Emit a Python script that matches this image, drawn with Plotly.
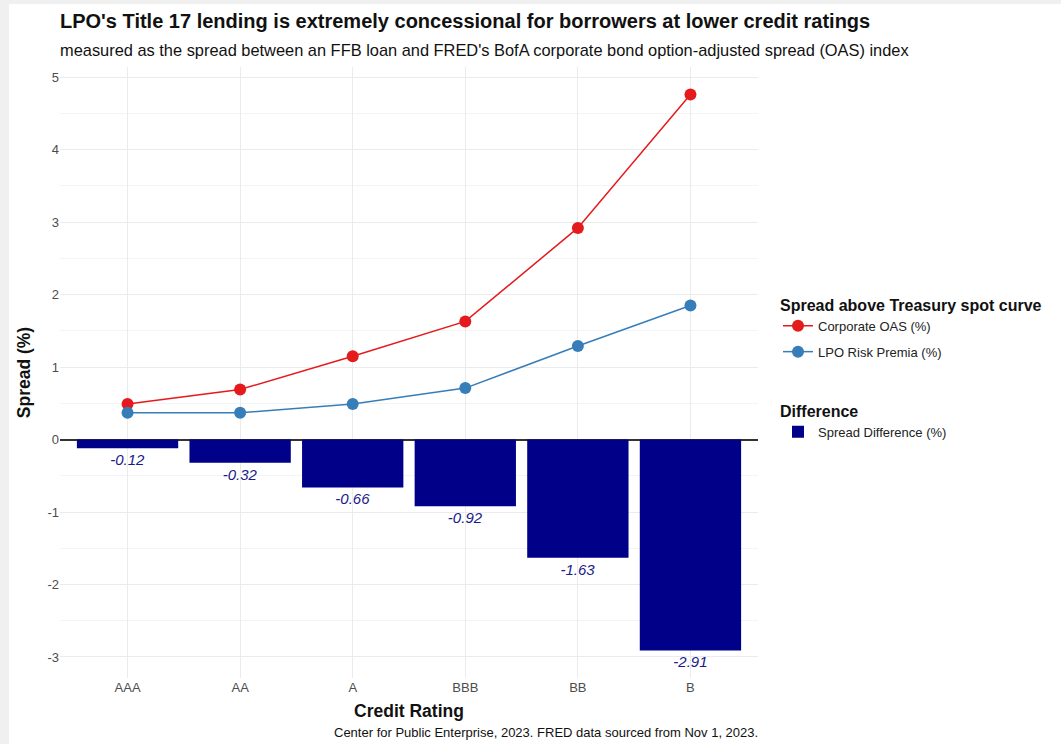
import plotly.graph_objects as go

categories = ["AAA", "AA", "A", "BBB", "BB", "B"]
corporate_oas = [0.49, 0.69, 1.15, 1.63, 2.92, 4.76]
lpo_risk_premia = [0.37, 0.37, 0.49, 0.71, 1.29, 1.85]
spread_difference = [-0.12, -0.32, -0.66, -0.92, -1.63, -2.91]
diff_labels = ["-0.12", "-0.32", "-0.66", "-0.92", "-1.63", "-2.91"]
y_ticks = [-3, -2, -1, 0, 1, 2, 3, 4, 5]

W, H = 1061, 744
ML, MR, MT, MB = 60, 303, 67, 66
PW, PH = W - ML - MR, H - MT - MB

def px_x(p):
    return (p - ML) / PW

def px_y(p):
    return (H - MB - p) / PH

FONT = "Liberation Sans, Arial, sans-serif"

fig = go.Figure()

fig.add_trace(go.Bar(
    x=categories, y=spread_difference, name="Spread Difference (%)",
    marker=dict(color="#000088", line=dict(width=0)), width=0.9,
    text=diff_labels, textposition="outside",
    textfont=dict(family=FONT, size=15, color="#1a1a8a", style="italic"),
    cliponaxis=False, legend="legend2", showlegend=True,
))
fig.add_trace(go.Scatter(
    x=categories, y=corporate_oas, name="Corporate OAS (%)",
    mode="lines+markers", line=dict(color="#E41A1C", width=1.5),
    marker=dict(color="#E41A1C", size=12), legend="legend", legendgroup="oas",
))
fig.add_trace(go.Scatter(
    x=categories, y=lpo_risk_premia, name="LPO Risk Premia (%)",
    mode="lines+markers", line=dict(color="#377EB8", width=1.5),
    marker=dict(color="#377EB8", size=12), legend="legend", legendgroup="lpo",
))

fig.update_layout(
    width=W, height=H,
    margin=dict(l=ML, r=MR, t=MT, b=MB),
    paper_bgcolor="#f0f0f0", plot_bgcolor="white",
    font=dict(family=FONT, color="#222"),
    bargap=0.1,
    xaxis=dict(
        range=[-0.6, 5.6], tickfont=dict(size=13, color="#4d4d4d"),
        showgrid=True, gridcolor="#ebebeb", gridwidth=1, ticks="", showline=False,
        title=dict(text="<b>Credit Rating</b>", font=dict(size=17.5, color="#111"), standoff=10),
        zeroline=False,
    ),
    yaxis=dict(
        range=[-3.29, 5.14], tickvals=y_ticks, ticktext=[str(v) for v in y_ticks],
        tickfont=dict(size=13, color="#4d4d4d"),
        showgrid=True, gridcolor="#ebebeb", gridwidth=1,
        minor=dict(dtick=0.5, showgrid=True, gridcolor="#f4f4f4", gridwidth=1),
        zeroline=True, zerolinecolor="#333333", zerolinewidth=2,
        title=dict(text="<b>Spread (%)</b>", font=dict(size=17.5, color="#111"), standoff=12),
        ticks="", showline=False,
    ),
    legend=dict(
        x=px_x(778), y=px_y(290), xanchor="left", yanchor="top",
        title=dict(text="<b>Spread above Treasury spot curve</b>", font=dict(size=16, color="#111")),
        font=dict(size=13, color="#222"), bgcolor="rgba(0,0,0,0)", tracegroupgap=6,
    ),
    legend2=dict(
        x=px_x(778), y=px_y(396), xanchor="left", yanchor="top",
        title=dict(text="<b>Difference</b>", font=dict(size=16, color="#111")),
        font=dict(size=13, color="#222"), bgcolor="rgba(0,0,0,0)",
    ),
    shapes=[dict(
        type="rect", xref="paper", yref="paper", layer="below",
        x0=px_x(9), x1=px_x(W + 5), y0=px_y(H + 5), y1=px_y(4),
        fillcolor="white", line=dict(width=0),
    )],
    annotations=[
        dict(text="<b>LPO's Title 17 lending is extremely concessional for borrowers at lower credit ratings</b>",
             xref="paper", yref="paper", x=px_x(58), y=px_y(21), xanchor="left", yanchor="middle",
             showarrow=False, font=dict(size=20, color="#111")),
        dict(text="measured as the spread between an FFB loan and FRED's BofA corporate bond option-adjusted spread (OAS) index",
             xref="paper", yref="paper", x=px_x(58), y=px_y(50), xanchor="left", yanchor="middle",
             showarrow=False, font=dict(size=16.4, color="#111")),
        dict(text="Center for Public Enterprise, 2023. FRED data sourced from Nov 1, 2023.",
             xref="paper", yref="paper", x=px_x(760), y=px_y(732), xanchor="right", yanchor="middle",
             showarrow=False, font=dict(size=13, color="#111")),
    ],
)

fig.write_html("out.html", config={"displayModeBar": False},
               post_script="document.body.style.margin='0';document.body.style.background='#f0f0f0';")
